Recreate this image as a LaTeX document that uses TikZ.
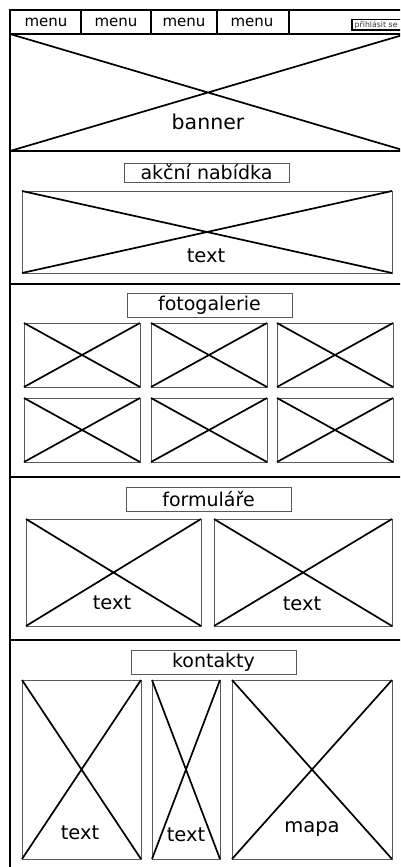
\documentclass[tikz,border=0pt]{standalone}
\usepackage{fontspec}
\setmainfont{DejaVu Sans}
\begin{document}
\begin{tikzpicture}[x=1pt,y=-1pt,
  frame/.style={draw=black,line width=2.3pt},
  imgbox/.style={draw=black!65,line width=1pt,inner sep=0pt,outer sep=0pt,anchor=north west},
  titlebox/.style={draw=black!65,line width=0.8pt,inner sep=0pt,outer sep=0pt,anchor=north west,font=\fontsize{19}{19}\selectfont},
  cross/.style={draw=black,line width=1.7pt},
  lbl/.style={font=\fontsize{19.5}{20}\selectfont,inner sep=0pt,text=black},
  menulbl/.style={font=\fontsize{15}{15}\selectfont,inner sep=0pt}]
\useasboundingbox (0,0) rectangle (400,867);
\clip (0,0) rectangle (400,867);
\newcommand\xbox[5]{%
  \node[imgbox,minimum width=#4-#2,minimum height=#5-#3] (#1) at (#2,#3) {};
  \draw[cross] (#1.north west) -- (#1.south east) (#1.north east) -- (#1.south west);}
% outer frame and section dividers
\draw[frame] (10,10) rectangle (406,880);
\coordinate (m0) at (10,34); \coordinate (m1) at (406,34);
\coordinate (s1a) at (10,151); \coordinate (s1b) at (406,151);
\coordinate (s2a) at (10,284); \coordinate (s2b) at (406,284);
\coordinate (s3a) at (10,477); \coordinate (s3b) at (406,477);
\coordinate (s4a) at (10,640); \coordinate (s4b) at (406,640);
\draw[frame] (m0) -- (m1) (s1a) -- (s1b) (s2a) -- (s2b) (s3a) -- (s3b) (s4a) -- (s4b);
% menu
\foreach \x/\n in {81/a,151/b,217/c,289/d}{
  \coordinate (t\n) at (\x,10); \coordinate (b\n) at (\x,34);
  \draw[line width=1.5pt] (t\n) -- (b\n);}
\node[menulbl] (menu1) at (46,22) {menu};
\node[menulbl] (menu2) at (116,22) {menu};
\node[menulbl] (menu3) at (184,22) {menu};
\node[menulbl] (menu4) at (252,22) {menu};
\node[draw=black,line width=1.3pt,inner sep=0pt,outer sep=0pt,anchor=north west,minimum width=50pt,minimum height=10.5pt] (login) at (352,19.5) {};
\node[font=\fontsize{7.8}{8}\selectfont,text=black!80,anchor=west,inner sep=0pt] (logintxt) at (354.5,25) {přihlásit se};
% banner
\coordinate (bn1) at (10,34); \coordinate (bn2) at (406,151);
\coordinate (bn3) at (10,151); \coordinate (bn4) at (406,34);
\draw[cross] (bn1) -- (bn2) (bn3) -- (bn4);
\node[lbl,font=\fontsize{20.5}{21}\selectfont] (banner) at (208,122) {banner};
% akční nabídka
\node[titlebox,minimum width=165pt,minimum height=19pt] (t1) at (124,163) {};
\node[lbl,font=\fontsize{19}{19}\selectfont] at (t1.center) {akční nabídka};
\xbox{a1}{22}{191}{392}{273}
\node[lbl] (a1t) at (206,256) {text};
% fotogalerie
\node[titlebox,minimum width=165pt,minimum height=24pt] (t2) at (127,293) {};
\node[lbl,font=\fontsize{19}{19}\selectfont] at (t2.center) {fotogalerie};
\xbox{g1}{24}{323}{140}{387}
\xbox{g2}{151}{323}{267}{387}
\xbox{g3}{277}{323}{393}{387}
\xbox{g4}{24}{398}{140}{462}
\xbox{g5}{151}{398}{267}{462}
\xbox{g6}{277}{398}{393}{462}
% formuláře
\node[titlebox,minimum width=165pt,minimum height=24pt] (t3) at (126,487) {};
\node[lbl,font=\fontsize{19}{19}\selectfont] at (t3.center) {formuláře};
\xbox{f1}{26}{519}{201}{626}
\xbox{f2}{214}{519}{392}{626}
\node[lbl] (f1t) at (112,603) {text};
\node[lbl] (f2t) at (302,604) {text};
% kontakty
\node[titlebox,minimum width=165pt,minimum height=24pt] (t4) at (131,650) {};
\node[lbl,font=\fontsize{19}{19}\selectfont] at (t4.center) {kontakty};
\xbox{k1}{22}{680}{141}{859}
\xbox{k2}{152}{680}{220}{859}
\xbox{k3}{232}{680}{392}{859}
\node[lbl] (k1t) at (80,833) {text};
\node[lbl] (k2t) at (186,835) {text};
\node[lbl] (k3t) at (312,829) {mapa};
\end{tikzpicture}
\end{document}
